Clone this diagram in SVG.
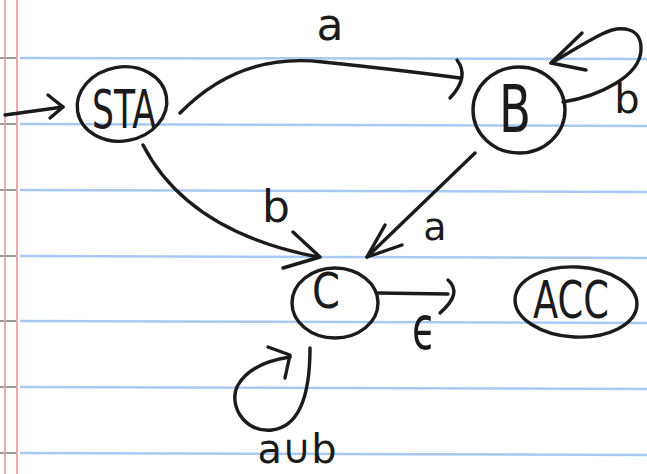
<svg xmlns="http://www.w3.org/2000/svg" width="647" height="474" viewBox="0 0 647 474">
  <style>
    .ruled { stroke: #a9c9f3; stroke-width: 2.5; }
    .tick { stroke: #9a9a9a; stroke-width: 2; }
    .margin { stroke: #e9a0aa; stroke-width: 1.8; }
    .ink { fill: none; stroke: #1b1b1b; stroke-width: 3.4; stroke-linecap: round; stroke-linejoin: round; }
    .lbl { font-family: "DejaVu Sans", "Liberation Sans", sans-serif; fill: #1b1b1b; text-anchor: middle; }
  </style>
  <rect x="0" y="0" width="647" height="474" fill="#ffffff"/>
  <g id="paper">
    <line class="ruled" x1="20" y1="58" x2="647" y2="59"/>
    <line class="ruled" x1="20" y1="124" x2="647" y2="126"/>
    <line class="ruled" x1="20" y1="190" x2="647" y2="192"/>
    <line class="ruled" x1="20" y1="256" x2="647" y2="258"/>
    <line class="ruled" x1="20" y1="321" x2="647" y2="323"/>
    <line class="ruled" x1="20" y1="387" x2="647" y2="389"/>
    <line class="ruled" x1="20" y1="453" x2="647" y2="455"/>
    <line class="tick" x1="0" y1="58" x2="16" y2="58"/>
    <line class="tick" x1="0" y1="124" x2="16" y2="124"/>
    <line class="tick" x1="0" y1="190" x2="16" y2="190"/>
    <line class="tick" x1="0" y1="256" x2="16" y2="256"/>
    <line class="tick" x1="0" y1="321" x2="16" y2="321"/>
    <line class="tick" x1="0" y1="387" x2="16" y2="387"/>
    <line class="tick" x1="0" y1="453" x2="16" y2="453"/>
    <line class="margin" x1="5" y1="0" x2="5" y2="474"/>
    <line class="margin" x1="17" y1="0" x2="17" y2="474"/>
  </g>
  <g id="connectors">
    <g id="start-arrow">
      <path class="ink" d="M5,115 L63,107"/>
      <path class="ink" d="M48,95 L63,107 L50,118"/>
    </g>
    <g id="STA-B">
      <path class="ink" d="M180,113 Q 240,52 323,62 Q 400,70 460,78"/>
      <path class="ink" d="M457,60 Q 470,77 450,98"/>
      <text class="lbl" x="330" y="40" font-size="44">a</text>
    </g>
    <g id="B-B">
      <path class="ink" d="M563,102 C 600,96 640,76 641,50 C 642,28 622,24 602,34 C 582,44 566,55 551,63"/>
      <path class="ink" d="M582,33 L551,63 L586,70"/>
      <text class="lbl" x="627" y="113" font-size="40">b</text>
    </g>
    <g id="STA-C">
      <path class="ink" d="M143,145 Q 188,232 318,257"/>
      <path class="ink" d="M293,232 L320,257 L283,268"/>
      <text class="lbl" x="276" y="222" font-size="44">b</text>
    </g>
    <g id="B-C">
      <path class="ink" d="M475,153 L367,257"/>
      <path class="ink" d="M385,225 L367,257 L402,245"/>
      <text class="lbl" x="435" y="240" font-size="38">a</text>
    </g>
    <g id="C-ACC">
      <path class="ink" d="M378,293 L448,294"/>
      <path class="ink" d="M448,280 Q 463,293 440,313"/>
      <text class="lbl" x="424" y="349" font-size="60" textLength="24" lengthAdjust="spacingAndGlyphs">ϵ</text>
    </g>
    <g id="C-C">
      <path class="ink" d="M310,348 C 310,382 305,426 272,430 C 242,433 228,402 238,385 C 248,368 270,360 290,357"/>
      <path class="ink" d="M268,347 L290,355 L285,378"/>
      <text class="lbl" x="297" y="463" font-size="40" textLength="79" lengthAdjust="spacingAndGlyphs">a∪b</text>
    </g>
  </g>
  <g id="node-STA">
    <ellipse class="ink" cx="122" cy="104" rx="45" ry="37" transform="rotate(-10 122 104)"/>
    <text class="lbl" x="124" y="128" font-size="54" textLength="64" lengthAdjust="spacingAndGlyphs">STA</text>
  </g>
  <g id="node-B">
    <ellipse class="ink" cx="519" cy="110" rx="46" ry="43"/>
    <text class="lbl" x="515" y="132" font-size="66" textLength="32" lengthAdjust="spacingAndGlyphs">B</text>
  </g>
  <g id="node-C">
    <ellipse class="ink" cx="335" cy="303" rx="43" ry="35"/>
    <text class="lbl" x="326" y="308" font-size="50" textLength="28" lengthAdjust="spacingAndGlyphs">C</text>
  </g>
  <g id="node-ACC">
    <ellipse class="ink" cx="576" cy="302" rx="61" ry="35" transform="rotate(3 576 302)"/>
    <text class="lbl" x="571" y="318" font-size="52" textLength="76" lengthAdjust="spacingAndGlyphs">ACC</text>
  </g>
</svg>
